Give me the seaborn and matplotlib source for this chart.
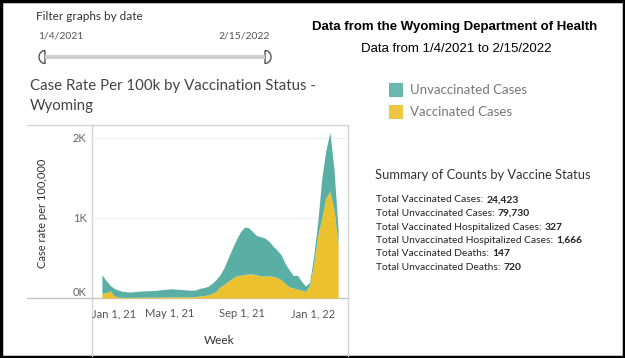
import numpy as np
import pandas as pd
import matplotlib
matplotlib.use("Agg")
import matplotlib.pyplot as plt
import matplotlib.transforms as mtransforms
from matplotlib.path import Path
from matplotlib.patches import PathPatch, Rectangle
import seaborn as sns

# weekly case rate per 100k, Wyoming
week_start = "2021-01-04"
vaccinated = [60, 65, 90, 30, 12, 8, 8, 8, 10, 10, 10, 12, 12, 12, 12, 15, 15, 15, 15, 15,
              15, 15, 15, 18, 25, 30, 40, 55, 80, 140, 170, 210, 245, 275, 285, 295, 300, 300, 290, 275,
              275, 275, 270, 255, 230, 180, 140, 125, 110, 100, 80, 160, 420, 780, 1000, 1250, 1330, 1100, 680]
unvaccinated = [230, 155, 70, 90, 88, 77, 70, 67, 70, 75, 78, 78, 80, 83, 88, 90, 95, 100, 97, 93,
                90, 85, 83, 82, 95, 100, 105, 125, 150, 150, 210, 290, 375, 455, 540, 590, 580, 530, 490, 490,
                475, 435, 380, 345, 310, 250, 210, 155, 175, 110, 70, 35, 100, 170, 500, 600, 740, 500, 170]
series_names = ["Unvaccinated Cases", "Vaccinated Cases"]
series_colors = ["#5aafa5", "#ecc12e"]

tick_dates = ["2021-01-01", "2021-05-01", "2021-09-01", "2022-01-01"]
tick_labels = ["Jan 1, 21", "May 1, 21", "Sep 1, 21", "Jan 1, 22"]
y_ticks = [0, 1000, 2000]
y_tick_labels = ["0K", "1K", "2K"]

summary_labels = ["Total Vaccinated Cases:", "Total Unvaccinated Cases:",
                  "Total Vaccinated Hospitalized Cases:", "Total Unvaccinated Hospitalized Cases:",
                  "Total Vaccinated Deaths:", "Total Unvaccinated Deaths:"]
summary_values = ["24,423", "79,730", "327", "1,666", "147", "720"]

weeks = pd.date_range(week_start, periods=len(vaccinated), freq="7D")
df = pd.DataFrame({"week": weeks, "Vaccinated Cases": vaccinated, "Unvaccinated Cases": unvaccinated})

sns.set_theme(style="white")
plt.rcParams["font.family"] = ["Lato", "DejaVu Sans"]

W, H = 625, 358
fig = plt.figure(figsize=(6.25, 3.58), dpi=100)
fig.patch.set_facecolor("white")

# overlay in pixel coords for the dashboard furniture
bg = fig.add_axes([0, 0, 1, 1], zorder=0)
bg.set_xlim(0, W)
bg.set_ylim(H, 0)
bg.axis("off")

# chart pane
ax = fig.add_axes([92 / W, 1 - 298 / H, (348 - 92) / W, (298 - 125) / H], zorder=1)
ax.patch.set_alpha(0)
pal = dict(zip(series_names, series_colors))
ax.stackplot(df["week"], df["Vaccinated Cases"], df["Unvaccinated Cases"],
             colors=[pal["Vaccinated Cases"], pal["Unvaccinated Cases"]], linewidth=0)
ax.set_xlim(pd.Timestamp("2020-12-18"), pd.Timestamp("2022-03-03"))
ax.set_ylim(0, 2162)
ax.set_yticks(y_ticks, y_tick_labels)
ax.set_xticks(pd.to_datetime(tick_dates), tick_labels)
ax.tick_params(axis="y", length=0, pad=4, labelsize=8, labelcolor="#666666")
ax.tick_params(axis="x", length=0, pad=7.5, labelsize=8, labelcolor="#555555")
ax.yaxis.grid(True, color="#efefef", lw=0.8)
ax.xaxis.grid(False)
for s in ax.spines.values():
    s.set_visible(False)
ax.set_xlabel("")
ax.set_ylabel("")
# first x label is pushed inside the pane, 0K nudged up like tableau does
xl = ax.get_xticklabels()
xl[0].set_ha("left")
xl[0].set_transform(xl[0].get_transform() + mtransforms.ScaledTranslation(-8 / 100, 0, fig.dpi_scale_trans))
yl = ax.get_yticklabels()
yl[0].set_transform(yl[0].get_transform() + mtransforms.ScaledTranslation(0, 6 / 100, fig.dpi_scale_trans))

line_c = "#d4d4d4"
bg.plot([27, 348], [125, 125], color=line_c, lw=1)
bg.plot([27, 348], [298, 298], color="#c4c4c4", lw=1)
bg.plot([92, 92], [125, 356], color=line_c, lw=1)
bg.plot([348, 348], [125, 356], color=line_c, lw=1)

bg.text(42, 213, "Case rate per 100,000", rotation=90, ha="center", va="center", fontsize=8, color="#333333")
bg.text(219, 340, "Week", ha="center", va="center", fontsize=8.5, color="#333333")

# date filter widget
bg.text(36, 16, "Filter graphs by date", ha="left", va="center", fontsize=8.5, color="#333333")
bg.text(38, 36, "1/4/2021", ha="left", va="center", fontsize=7.5, color="#555555")
bg.text(270, 36, "2/15/2022", ha="right", va="center", fontsize=7.5, color="#555555")
bg.plot([45, 265], [57, 57], color="#cfcfcf", lw=3, solid_capstyle="butt")
t = np.linspace(0, np.pi, 24)
for x0, d in [(45, -1), (265, 1)]:
    pts = [(x0 + d * 6 * np.sin(a), 57 - 6.5 * np.cos(a)) for a in t]
    pts.append(pts[0])
    bg.add_patch(PathPatch(Path(pts), fc="white", ec="#555555", lw=1))

bg.text(30, 86, "Case Rate Per 100k by Vaccination Status -", ha="left", va="center", fontsize=10.8, color="#444444")
bg.text(30, 106, "Wyoming", ha="left", va="center", fontsize=10.8, color="#444444")

# header
bg.text(455, 27, "Data from the Wyoming Department of Health", ha="center", va="center",
        fontsize=9.5, fontweight="bold", family="Liberation Sans", color="black")
bg.text(456, 49, "Data from 1/4/2021 to 2/15/2022", ha="center", va="center",
        fontsize=9.5, family="Liberation Sans", color="black")

# legend
for i, name in enumerate(series_names):
    yc = 90 + 22 * i
    bg.add_patch(Rectangle((389, yc - 7), 14, 14, fc=pal[name], ec="none", alpha=0.9))
    bg.text(410, yc, name, ha="left", va="center", fontsize=9.5, color="#777777")

# summary block
bg.text(375, 175, "Summary of Counts by Vaccine Status", ha="left", va="center", fontsize=9.3, color="#333333")
fig.canvas.draw()
rend = fig.canvas.get_renderer()
for i, (lab, val) in enumerate(zip(summary_labels, summary_values)):
    yc = 200 + 13.5 * i
    tl = bg.text(376, yc, lab, ha="left", va="center", fontsize=7.4, color="#222222")
    ext = tl.get_window_extent(rend)
    x_end = ext.x1 / fig.dpi * 100 * (W / (fig.get_figwidth() * 100))
    bg.text(x_end + 3, yc, val, ha="left", va="center", fontsize=7.4, fontweight="bold", color="#222222")

bg.add_patch(Rectangle((1.2, 1.2), W - 2.4, H - 2.4, fill=False, ec="black", lw=2.5))

fig.savefig("out.png", dpi=100)
